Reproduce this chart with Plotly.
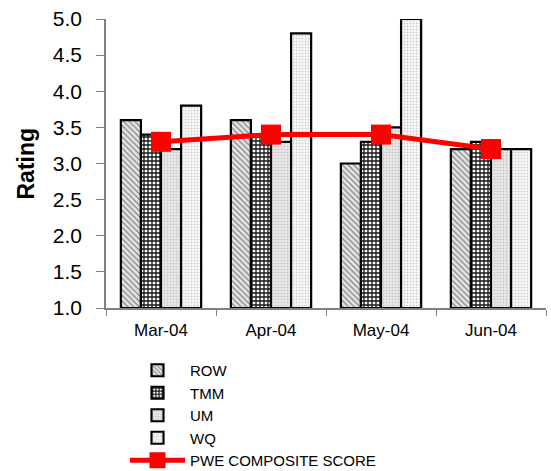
import plotly.graph_objects as go

months = ["Mar-04", "Apr-04", "May-04", "Jun-04"]
row = [3.6, 3.6, 3.0, 3.2]
tmm = [3.4, 3.4, 3.3, 3.3]
um = [3.2, 3.3, 3.5, 3.2]
wq = [3.8, 4.8, 5.0, 3.2]
pwe = [3.3, 3.4, 3.4, 3.2]
y_ticks = [1.0, 1.5, 2.0, 2.5, 3.0, 3.5, 4.0, 4.5, 5.0]

FONT = "Liberation Sans, Arial, sans-serif"

bar_styles = [
    ("ROW", row, dict(shape="\\", fgcolor="#8a8a8a", bgcolor="#e6e6e6", size=4, solidity=0.35)),
    ("TMM", tmm, dict(shape="+", fgcolor="#1a1a1a", bgcolor="#ffffff", size=4, solidity=0.55)),
    ("UM", um, dict(shape=".", fgcolor="#c8c8c8", bgcolor="#ececec", size=3, solidity=0.4)),
    ("WQ", wq, dict(shape=".", fgcolor="#cfcfcf", bgcolor="#fafafa", size=3, solidity=0.3)),
]

fig = go.Figure()
for name, vals, pat in bar_styles:
    fig.add_trace(go.Bar(
        x=months, y=[v - 1.0 for v in vals], base=1.0, name=name,
        marker=dict(color=pat["bgcolor"], line=dict(color="black", width=2.2),
                    pattern=dict(fillmode="replace", **pat)),
        hovertext=[f"{v:.1f}" for v in vals],
    ))

fig.add_trace(go.Scatter(
    x=months, y=pwe, name="PWE COMPOSITE SCORE", mode="lines+markers",
    line=dict(color="#ff0000", width=5),
    marker=dict(symbol="square", size=20, color="#ff0000"),
))

fig.update_layout(
    width=551, height=471,
    margin=dict(l=106, r=5, t=19, b=163, autoexpand=False),
    plot_bgcolor="white", paper_bgcolor="white",
    barmode="group", bargap=0.27, bargroupgap=0,
    font=dict(family=FONT, color="black"),
    showlegend=True,
    legend=dict(
        xref="container", yref="container",
        x=125 / 551, y=(471 - 354) / 471, xanchor="left", yanchor="top",
        font=dict(size=15, family=FONT), itemwidth=55,
        tracegroupgap=0, bgcolor="rgba(0,0,0,0)", traceorder="normal",
    ),
    xaxis=dict(
        showline=True, linecolor="#808080", linewidth=1.5,
        ticks="outside", tickson="boundaries", ticklen=6, tickcolor="#808080",
        tickfont=dict(size=17), ticklabelstandoff=6, showgrid=False,
        automargin=False,
    ),
    yaxis=dict(
        range=[1.0, 5.0], tickvals=y_ticks, ticktext=[f"{t:.1f}" for t in y_ticks],
        showline=True, linecolor="#808080", linewidth=1.5,
        ticks="outside", ticklen=8, tickcolor="#808080",
        tickfont=dict(size=21), ticklabelstandoff=10, showgrid=False, zeroline=False,
        automargin=False,
    ),
    annotations=[dict(
        text="<b>Rating</b>", textangle=-90, showarrow=False,
        xref="paper", yref="paper", x=(25 - 106) / 440, y=0.5,
        xanchor="center", yanchor="middle", font=dict(size=23, family=FONT),
    )],
)

fig.write_html("out.html")
